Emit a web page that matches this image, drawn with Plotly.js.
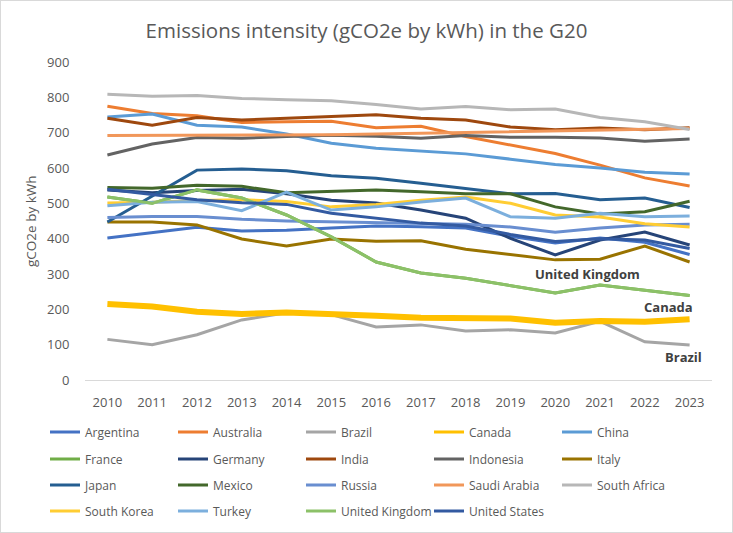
<!DOCTYPE html>
<html>
<head>
<meta charset="utf-8">
<script src="https://cdn.plot.ly/plotly-3.0.1.min.js"></script>
<style>
html,body{margin:0;padding:0;background:#fff;}
#wrap{position:relative;width:733px;height:533px;}
#chart{width:733px;height:533px;}
#frame{position:absolute;left:0;top:0;width:733px;height:533px;box-sizing:border-box;border:1px solid #d9d9d9;pointer-events:none;}
</style>
</head>
<body>
<div id="wrap"><div id="chart"></div><div id="frame"></div></div>
<script>
const years = ["2010","2011","2012","2013","2014","2015","2016","2017","2018","2019","2020","2021","2022","2023"];

const argentina   = [402, 418, 432, 422, 424, 430, 436, 434, 430, 407, 388, 402, 390, 355];
const australia   = [775, 754, 748, 729, 731, 732, 714, 718, 689, 666, 641, 608, 572, 549];
const brazil      = [115, 100, 128, 170, 190, 185, 150, 156, 139, 142, 133, 166, 108, 99];
const canada      = [215, 208, 193, 187, 191, 188, 182, 176, 173, 174, 162, 167, 165, 172];
const china       = [744, 753, 721, 716, 696, 670, 656, 648, 640, 625, 610, 600, 588, 583];
const france      = [518, 500, 538, 515, 467, 405, 334, 303, 288, 268, 246, 269, 255, 239];
const germany     = [538, 530, 536, 540, 527, 509, 501, 481, 458, 401, 354, 396, 419, 382];
const india       = [741, 721, 743, 736, 741, 745, 751, 741, 736, 716, 708, 713, 708, 714];
const indonesia   = [637, 668, 686, 684, 689, 693, 690, 684, 692, 687, 687, 685, 676, 682];
const italy       = [447, 447, 439, 399, 379, 399, 393, 394, 370, 355, 340, 342, 379, 334];
const japan       = [447, 520, 594, 597, 592, 578, 571, 557, 542, 527, 528, 510, 515, 488];
const mexico      = [545, 543, 551, 548, 530, 535, 538, 533, 527, 527, 490, 470, 476, 506];
const russia      = [460, 463, 463, 455, 450, 448, 447, 444, 441, 433, 418, 430, 439, 441];
const saudiArabia = [692, 692, 692, 692, 693, 694, 696, 698, 700, 703, 705, 706, 708, 712];
const southAfrica = [809, 803, 805, 797, 793, 790, 780, 767, 774, 765, 767, 743, 731, 709];
const southKorea  = [501, 503, 508, 510, 505, 490, 497, 509, 518, 500, 467, 461, 442, 433];
const turkey      = [493, 503, 505, 479, 532, 481, 490, 504, 515, 462, 458, 472, 462, 464];
const unitedKingdom = [518, 500, 538, 515, 467, 405, 334, 303, 288, 268, 246, 269, 255, 239];
const unitedStates  = [540, 525, 510, 502, 497, 472, 458, 444, 436, 412, 392, 400, 396, 372];

const seriesNames = ["Argentina","Australia","Brazil","Canada","China","France","Germany","India","Indonesia","Italy","Japan","Mexico","Russia","Saudi Arabia","South Africa","South Korea","Turkey","United Kingdom","United States"];
const seriesValues = [argentina, australia, brazil, canada, china, france, germany, india, indonesia, italy, japan, mexico, russia, saudiArabia, southAfrica, southKorea, turkey, unitedKingdom, unitedStates];
const seriesColors = ["#4472C4","#ED7D31","#A5A5A5","#FFC000","#5B9BD5","#70AD47","#264478","#9E480E","#636363","#997300","#255E91","#43682B","#698ED0","#F1975A","#B7B7B7","#FFCD33","#7CAFDD","#8CC168","#335AA1"];

const labelTexts = ["United Kingdom","Canada","Brazil"];
const yTitleText = "gCO2e by kWh";

const FONT = "'Open Sans', 'Noto Sans', sans-serif";
const legendRowsY = [432, 459, 485, 511];
const legendColX0 = 45, legendColStep = 128;

function legendId(i) { return i === 0 ? "legend" : "legend" + (i + 1); }

const traces = [];
seriesNames.forEach((name, i) => {
  const thick = name === "Canada";
  traces.push({
    type: "scatter",
    mode: "lines",
    name: name,
    x: years,
    y: seriesValues[i],
    line: {color: seriesColors[i], width: thick ? 6 : 3},
    legend: legendId(i),
    showlegend: !thick,
    hoverinfo: "skip"
  });
  if (thick) {
    traces.push({
      type: "scatter",
      mode: "lines",
      name: name,
      x: [null],
      y: [null],
      line: {color: seriesColors[i], width: 3},
      legend: legendId(i),
      hoverinfo: "skip"
    });
  }
});

const layout = {
  width: 733, height: 533,
  margin: {l: 85, r: 21, t: 62, b: 153, autoexpand: false},
  paper_bgcolor: "#ffffff",
  plot_bgcolor: "#ffffff",
  showlegend: true,
  hovermode: false,
  font: {family: FONT, color: "#595959"},
  title: {
    text: "Emissions intensity (gCO2e by kWh) in the G20",
    font: {family: FONT, size: 20.5, color: "#595959"},
    xref: "container", x: 0.5, xanchor: "center",
    yref: "container", y: 1 - 31 / 533, yanchor: "middle"
  },
  xaxis: {
    type: "category",
    range: [-0.5, 13.5],
    showgrid: false,
    zeroline: false,
    showline: true, linecolor: "#D9D9D9", linewidth: 1,
    ticks: "outside", ticklen: 10, tickcolor: "rgba(0,0,0,0)",
    tickfont: {family: FONT, size: 13, color: "#595959"},
    automargin: false,
    fixedrange: true
  },
  yaxis: {
    range: [0, 900],
    tickvals: [0,100,200,300,400,500,600,700,800,900],
    showgrid: false,
    zeroline: false,
    showline: false,
    ticks: "outside", ticklen: 12, tickcolor: "rgba(0,0,0,0)",
    tickfont: {family: FONT, size: 13, color: "#595959"},
    automargin: false,
    fixedrange: true
  },
  annotations: [
    {text: yTitleText, xref: "paper", yref: "paper", x: (31 - 85) / 627, y: 0.5, xanchor: "center", yanchor: "middle", textangle: -90, showarrow: false, font: {family: FONT, size: 13.5, color: "#595959"}},
    {text: "<b>" + labelTexts[0] + "</b>", x: 10.71, y: 300, xref: "x", yref: "y", showarrow: false, font: {family: FONT, size: 13, color: "#404040"}},
    {text: "<b>" + labelTexts[1] + "</b>", x: 12.52, y: 207, xref: "x", yref: "y", showarrow: false, font: {family: FONT, size: 13, color: "#404040"}},
    {text: "<b>" + labelTexts[2] + "</b>", x: 12.86, y: 65, xref: "x", yref: "y", showarrow: false, font: {family: FONT, size: 13, color: "#404040"}}
  ]
};

seriesNames.forEach((name, i) => {
  const col = i % 5, row = Math.floor(i / 5);
  layout[legendId(i)] = {
    orientation: "v",
    xref: "container", yref: "container",
    x: (legendColX0 + col * legendColStep) / 733, xanchor: "left",
    y: 1 - legendRowsY[row] / 533, yanchor: "middle",
    itemwidth: 30,
    font: {family: FONT, size: 12, color: "#595959"},
    bgcolor: "rgba(0,0,0,0)",
    borderwidth: 0
  };
});

Plotly.newPlot("chart", traces, layout, {displayModeBar: false, staticPlot: true});
</script>
</body>
</html>
